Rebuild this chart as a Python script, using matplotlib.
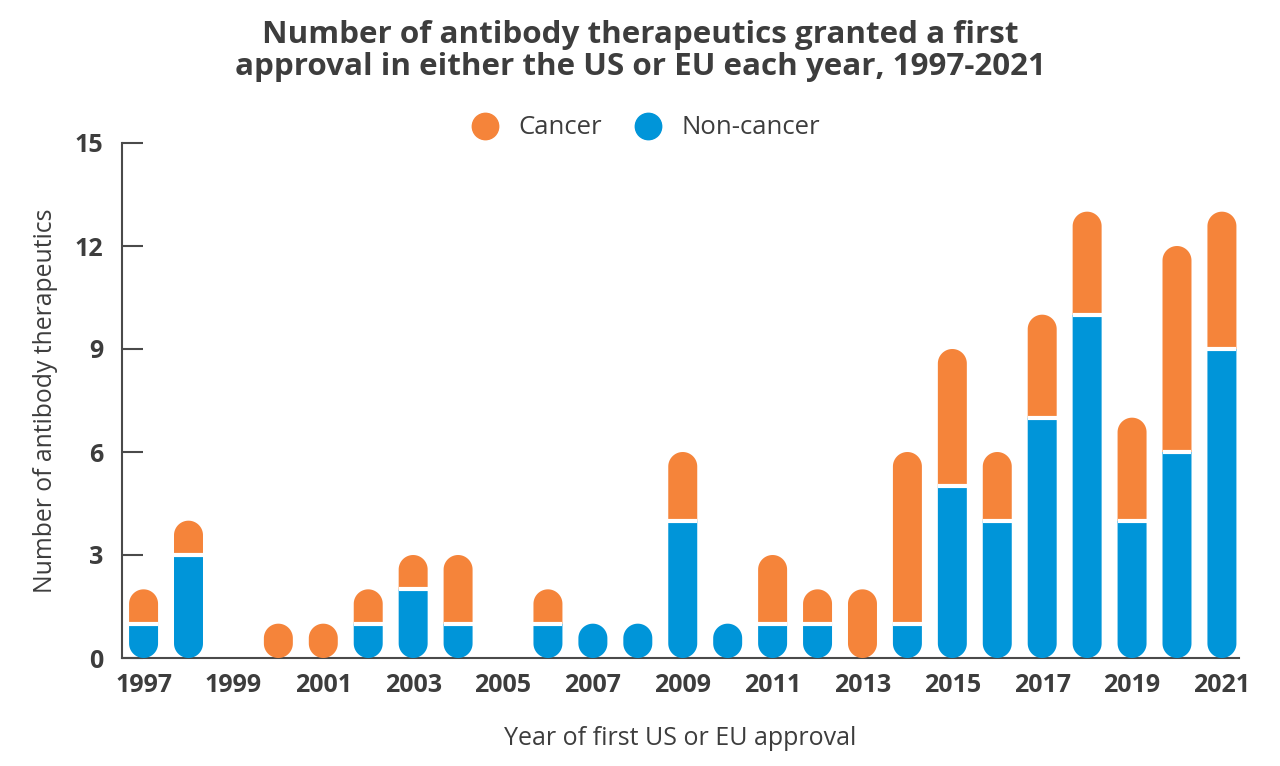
import matplotlib
matplotlib.use("Agg")
import numpy as np
import matplotlib.pyplot as plt
from matplotlib.path import Path
from matplotlib.patches import PathPatch
from matplotlib.lines import Line2D

# data
years = list(range(1997, 2022))
non_cancer = [1, 3, 0, 0, 0, 1, 2, 1, 0, 1, 1, 1, 4, 1, 1, 1, 0, 1, 5, 4, 7, 10, 4, 6, 9]
cancer     = [1, 1, 0, 1, 1, 1, 1, 2, 0, 1, 0, 0, 2, 0, 2, 1, 2, 5, 4, 2, 3, 3, 3, 6, 4]
tick_years = list(range(1997, 2022, 2))

orange = '#F5843A'
blue = '#0095D9'
txt = '#3d3d3d'

plt.rcParams['font.family'] = ['Open Sans', 'DejaVu Sans']

fig = plt.figure(figsize=(12.8, 7.66), dpi=100)
ax = fig.add_axes([122/1280, 108/766, 1117/1280, 515/766])
ax.set_xlim(1996.52, 2021.38)
ax.set_ylim(0, 15)

w = 0.645
# ry: vertical radius in data units so the ends look like half circles
bb = ax.get_position()
xr = ax.get_xlim()
asp = (15 / (bb.height * 766)) / ((xr[1] - xr[0]) / (bb.width * 1280))
rx = w / 2
ry = rx * asp


def segment(x, y0, y1, round_bottom, round_top):
    n = 40
    if round_top:
        t = np.linspace(0, np.pi, n)
        top = np.column_stack([x + rx * np.cos(t), y1 - ry + ry * np.sin(t)])
    else:
        top = np.array([[x + rx, y1], [x - rx, y1]])
    if round_bottom:
        t = np.linspace(np.pi, 2 * np.pi, n)
        bot = np.column_stack([x + rx * np.cos(t), y0 + ry + ry * np.sin(t)])
    else:
        bot = np.array([[x - rx, y0], [x + rx, y0]])
    pts = np.vstack([top, bot, top[:1]])
    return Path(pts, closed=True)


for i, yr in enumerate(years):
    nc = non_cancer[i]
    ca = cancer[i]
    if nc > 0:
        ax.add_patch(PathPatch(segment(yr, 0, nc, True, ca == 0),
                               facecolor=blue, edgecolor='none', zorder=3))
    if ca > 0:
        ax.add_patch(PathPatch(segment(yr, nc, nc + ca, nc == 0, True),
                               facecolor=orange, edgecolor='none', zorder=3))
    if nc > 0 and ca > 0:
        ax.plot([yr - rx, yr + rx], [nc, nc], color='white', lw=3, zorder=4,
                solid_capstyle='butt')

for s in ['top', 'right']:
    ax.spines[s].set_visible(False)
for s in ['left', 'bottom']:
    ax.spines[s].set_color('#4a4a4a')
    ax.spines[s].set_linewidth(1.5)

ax.set_yticks([0, 3, 6, 9, 12, 15])
ax.set_xticks(tick_years)
ax.tick_params(axis='y', direction='in', length=15, width=1.5, color='#4a4a4a',
               pad=13.5, labelsize=18, labelcolor=txt)
ax.tick_params(axis='x', length=0, pad=11, labelsize=18, labelcolor=txt)
for lab in ax.get_xticklabels() + ax.get_yticklabels():
    lab.set_fontweight('bold')

ax.set_ylabel('Number of antibody therapeutics', fontsize=17.8, color=txt, labelpad=12)
ax.set_xlabel('Year of first US or EU approval', fontsize=18, color=txt, labelpad=20)

fig.text(0.5, 1 - 51/766, 'Number of antibody therapeutics granted a first\napproval in either the US or EU each year, 1997-2021',
         ha='center', va='center', fontsize=22.6, fontweight='bold', color=txt, linespacing=1.1)

handles = [Line2D([], [], marker='o', ls='', markersize=19, color=orange),
           Line2D([], [], marker='o', ls='', markersize=19, color=blue)]
fig.legend(handles, ['Cancer', 'Non-cancer'], loc='center', bbox_to_anchor=(0.5, 1 - 128/766),
           ncol=2, frameon=False, fontsize=18.5, labelcolor=txt, handletextpad=0.3,
           columnspacing=0.8)

fig.savefig('out.png', dpi=100, facecolor='white')
